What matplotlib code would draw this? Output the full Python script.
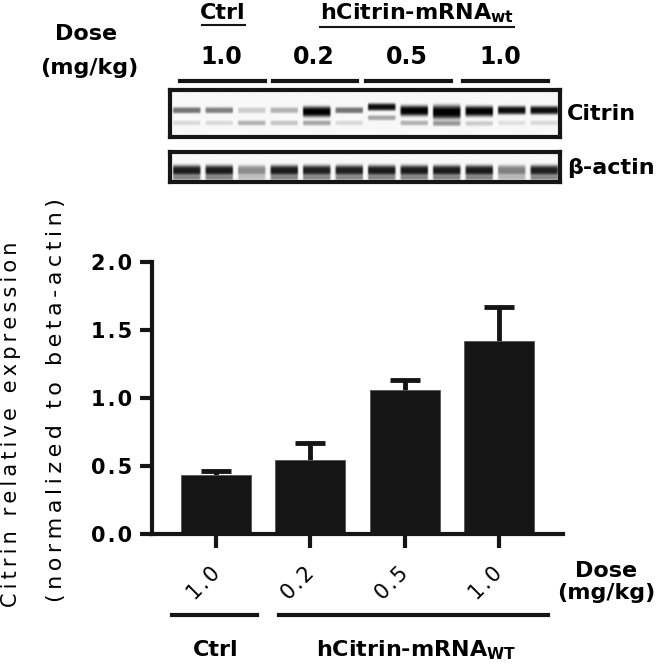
import numpy as np
import matplotlib
matplotlib.use("Agg")
import matplotlib.pyplot as plt
from matplotlib.lines import Line2D

# datos de la grafica
dosis = ["1.0", "0.2", "0.5", "1.0"]
media = [0.435, 0.545, 1.06, 1.42]
error = [0.03, 0.125, 0.075, 0.25]
yticks = [0.0, 0.5, 1.0, 1.5, 2.0]

# western blot (0 = blanco, 1 = negro), 12 carriles
citrin_sup = [0.55, 0.5, 0.2, 0.3, 1.0, 0.55, 0.95, 1.0, 1.0, 1.0, 0.95, 0.95]
citrin_sup_pos = [0.42, 0.42, 0.42, 0.42, 0.45, 0.42, 0.35, 0.43, 0.46, 0.44, 0.42, 0.42]
citrin_sup_grosor = [3, 3, 3, 3, 5, 3, 3.5, 5, 6.5, 5, 4, 4]
citrin_inf = [0.15, 0.15, 0.3, 0.22, 0.35, 0.15, 0.35, 0.3, 0.4, 0.2, 0.12, 0.15]
citrin_inf_pos = [0.69, 0.69, 0.69, 0.69, 0.69, 0.69, 0.58, 0.69, 0.7, 0.7, 0.69, 0.69]
actina = [0.9, 0.9, 0.45, 0.9, 0.88, 0.88, 0.9, 0.9, 0.9, 0.9, 0.5, 0.88]

W, H = 661, 668
NEGRO = "#151515"
plt.rcParams["font.family"] = ["DejaVu Sans"]
plt.rcParams["mathtext.fontset"] = "dejavusans"


def rect(x0, y0, x1, y1):
    return [x0 / W, 1 - y1 / H, (x1 - x0) / W, (y1 - y0) / H]


def fp(x, y):
    return x / W, 1 - y / H


def espaciado(s, sep="\u200a"):
    return sep.join(s)


def linea(fig, x0, x1, y, lw=3):
    fig.add_artist(Line2D([x0 / W, x1 / W], [1 - y / H, 1 - y / H],
                          transform=fig.transFigure, color=NEGRO, lw=lw))


def banda(y, c, hw):
    return np.exp(-np.abs((y - c) / hw) ** 3)


def imagen_blot(alto, bandas):
    ancho = 12 * 32
    img = np.full((alto, ancho), 0.03)
    u = np.arange(32)
    perfil = np.clip((u - 1.5) / 2, 0, 1) * np.clip((30.5 - u) / 2, 0, 1)
    y = np.arange(alto)[:, None]
    for l in range(12):
        col = np.zeros((alto, 1))
        for inten, pos, hw in bandas(l):
            b = inten * banda(y, pos * alto, hw)
            col = 1 - (1 - col) * (1 - b)
        img[:, l * 32:(l + 1) * 32] = np.maximum(img[:, l * 32:(l + 1) * 32],
                                                 col * perfil[None, :])
    return img


fig = plt.figure(figsize=(6.61, 6.68), dpi=100)

# ---- grafico de barras ----
ax = fig.add_axes(rect(152, 262, 563, 534))
x = np.arange(len(media))
ax.bar(x, media, width=0.745, color=NEGRO, edgecolor="#555555", linewidth=0.6, zorder=2)
eb = ax.errorbar(x, media, yerr=[np.zeros(len(error)), error], fmt="none", ecolor=NEGRO,
                 elinewidth=3.5, capsize=11, capthick=3.5, zorder=1)
# solo la barra de error superior
eb[1][0].set_visible(False)
ax.set_xlim(-0.68, 3.68)
ax.set_ylim(0, 2)
for s in ["top", "right"]:
    ax.spines[s].set_visible(False)
for s in ["left", "bottom"]:
    ax.spines[s].set_linewidth(3)
    ax.spines[s].set_color(NEGRO)
ax.set_yticks(yticks)
ax.set_yticklabels([espaciado("%.1f" % v) for v in yticks], fontsize=15, fontweight="bold")
ax.set_xticks(x)
ax.set_xticklabels([])
ax.tick_params(axis="y", length=9, width=3, pad=5, color=NEGRO)
ax.tick_params(axis="x", length=10, width=3, color=NEGRO)

for i, d in enumerate(dosis):
    ax.annotate(espaciado(d), xy=(i, 0), xytext=(-9, -36), textcoords="offset points",
                rotation=45, ha="center", va="center", fontsize=15, fontweight="normal",
                color="black", annotation_clip=False)

# lineas de grupo abajo
linea(fig, 172, 257, 615)
linea(fig, 279, 548, 615)
fig.text(*fp(216, 650), "Ctrl", ha="center", va="center", fontsize=16, fontweight="bold")
fig.text(*fp(416, 650), r"hCitrin-mRNA$_{\mathbf{WT}}$", ha="center", va="center",
         fontsize=16, fontweight="bold")
fig.text(*fp(606, 582), "Dose\n(mg/kg)", ha="center", va="center", fontsize=16,
         fontweight="bold", linespacing=1.15)

# etiqueta eje y
fig.text(*fp(11, 424), espaciado("Citrin relative expression", "\u2009"), rotation=90,
         ha="center", va="center", fontsize=15)
fig.text(*fp(56, 400), espaciado("(normalized to beta-actin)", "\u2009"), rotation=90,
         ha="center", va="center", fontsize=16)

# ---- parte superior ----
fig.text(*fp(86, 34), "Dose", ha="center", va="center", fontsize=16, fontweight="bold")
fig.text(*fp(89, 68), "(mg/kg)", ha="center", va="center", fontsize=16, fontweight="bold")
fig.text(*fp(223, 13), "Ctrl", ha="center", va="center", fontsize=16, fontweight="bold")
linea(fig, 202, 245, 25, lw=1.5)
fig.text(*fp(417, 13), r"hCitrin-mRNA$_{\mathbf{wt}}$", ha="center", va="center",
         fontsize=16, fontweight="bold")
linea(fig, 320, 514, 27, lw=1.5)
for xc, d in zip([221, 314, 407, 500], dosis):
    fig.text(*fp(xc, 57), d, ha="center", va="center", fontsize=17, fontweight="bold")
for x0, x1 in [(180, 265), (273, 357), (366, 451), (463, 548)]:
    linea(fig, x0, x1, 81)

# blot citrin
axc = fig.add_axes(rect(170, 90, 560, 137))
img_c = imagen_blot(45, lambda l: [(citrin_sup[l], citrin_sup_pos[l], citrin_sup_grosor[l]),
                                    (citrin_inf[l], citrin_inf_pos[l], 2.5)])
axc.imshow(img_c, cmap="gray_r", vmin=0, vmax=1, aspect="auto", interpolation="bilinear")
# blot actina
axa = fig.add_axes(rect(170, 152, 560, 182))
img_a = imagen_blot(28, lambda l: [(actina[l], 0.6, 5), (actina[l] * 0.5, 0.85, 2)])
axa.imshow(img_a, cmap="gray_r", vmin=0, vmax=1, aspect="auto", interpolation="bilinear")
for a in [axc, axa]:
    a.set_xticks([])
    a.set_yticks([])
    for s in a.spines.values():
        s.set_linewidth(3)
        s.set_color(NEGRO)

fig.text(*fp(567, 114), "Citrin", ha="left", va="center", fontsize=16, fontweight="bold")
fig.text(*fp(567, 168), "\u03b2-actin", ha="left", va="center", fontsize=16, fontweight="bold")

fig.savefig("out.png", dpi=100)
